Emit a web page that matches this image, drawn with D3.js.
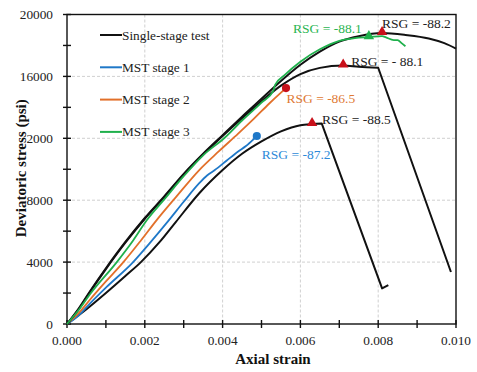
<!DOCTYPE html>
<html>
<head>
<meta charset="utf-8">
<script src="https://cdn.jsdelivr.net/npm/d3@7/dist/d3.min.js"></script>
<style>
  html, body { margin: 0; padding: 0; background: #fff; }
  svg { display: block; }
  text { font-family: "Liberation Serif", "Times New Roman", serif; }
</style>
</head>
<body>
<svg id="chart" width="477" height="372"></svg>
<script>
// Stress–strain curves: [axial strain, deviatoric stress (psi)]
const singleA = [[0,0],[0.0003,1000],[0.0006,2150],[0.001,3600],[0.0015,5300],[0.002,6850],[0.0025,8250],[0.003,9700],[0.0035,11000],[0.004,12200],[0.0045,13400],[0.005,14550],[0.0055,15700],[0.006,16750],[0.0065,17600],[0.007,18250],[0.0075,18600],[0.0081,18800],[0.0087,18680],[0.0093,18450],[0.0097,18150],[0.01,17800]];
const singleB = [[0,0],[0.0003,950],[0.0006,2100],[0.001,3550],[0.0015,5250],[0.002,6800],[0.0025,8200],[0.003,9650],[0.0035,10950],[0.004,12150],[0.0045,13300],[0.005,14400],[0.0055,15400],[0.006,16150],[0.0065,16550],[0.0071,16700],[0.0075,16620],[0.008,16560],[0.00987,3360]];
const singleC = [[0,0],[0.0005,950],[0.001,2000],[0.0015,3100],[0.0019,4000],[0.0024,5350],[0.0028,6600],[0.0034,8450],[0.004,9950],[0.0045,11000],[0.005,11800],[0.0055,12450],[0.006,12850],[0.0063,12920],[0.00655,12950],[0.0081,2300],[0.00826,2520]];
const mstStage1 = [[0,0],[0.0003,550],[0.0006,1350],[0.001,2350],[0.0017,4000],[0.0021,5150],[0.0026,6650],[0.003,7900],[0.0034,9100],[0.0036,9600],[0.0038,9950],[0.0041,10550],[0.0044,11150],[0.0046,11500],[0.0048,11950],[0.00488,12145]];
const mstStage2 = [[0,0],[0.0003,700],[0.0006,1600],[0.001,2750],[0.00145,4000],[0.0019,5400],[0.0023,6700],[0.0028,8200],[0.0034,9950],[0.0039,11150],[0.0044,12300],[0.0048,13250],[0.0052,14250],[0.0055,14950],[0.00563,15245]];
const mstStage3 = [[0,0],[0.0003,900],[0.0006,1950],[0.00128,4000],[0.0017,5400],[0.00205,6700],[0.0025,8050],[0.003,9550],[0.0035,10900],[0.00406,12050],[0.0045,13150],[0.005,14300],[0.0053,15050],[0.00535,15450],[0.0056,16100],[0.006,16950],[0.0065,17750],[0.007,18300],[0.0074,18480],[0.00776,18540],[0.0081,18600],[0.0082,18520],[0.0084,18350],[0.0085,18350],[0.0086,18150],[0.0087,17950]];

// Marked points and their RSG values
const peakTriangles = [[0.0081,18800],[0.0071,16700],[0.0063,12920]];
const stage3Triangle = [0.00776,18540];
const stage1Dot = [0.00488,12145];
const stage2Dot = [0.00563,15245];
const rsgLabels = ["RSG = -88.2","RSG = - 88.1","RSG = -88.5","RSG = -86.5","RSG = -87.2","RSG = -88.1"];

// Axis ticks
const xTicks = [0,0.002,0.004,0.006,0.008,0.010];
const xMinorTicks = d3.range(0,0.0105,0.001);
const yTicks = [0,4000,8000,12000,16000,20000];
const yMinorTicks = d3.range(0,20001,2000);

const legendNames = ["Single-stage test","MST stage 1","MST stage 2","MST stage 3"];
const colors = { black:"#111", blue:"#1f78c8", orange:"#e2702a", green:"#1fb04c", red:"#c8101a",
                 blueText:"#2e8ad8", orangeText:"#e07a34", greenText:"#2ab552" };

const svg = d3.select("#chart");
const L = 67, R = 456, T = 14.5, B = 324;
const x = d3.scaleLinear().domain([0,0.01]).range([L,R]);
const y = d3.scaleLinear().domain([0,20000]).range([B,T]);

// gridlines
const grid = svg.append("g").attr("stroke","#c4c4c4").attr("stroke-width",0.8).attr("stroke-dasharray","3,2");
yTicks.filter(v => v>0 && v<20000).forEach(v => grid.append("line").attr("x1",L).attr("x2",R).attr("y1",y(v)).attr("y2",y(v)));
xTicks.filter(v => v>0 && v<0.01).forEach(v => grid.append("line").attr("y1",T).attr("y2",B).attr("x1",x(v)).attr("x2",x(v)));

// frame
svg.append("rect").attr("x",L).attr("y",T).attr("width",R-L).attr("height",B-T)
  .attr("fill","none").attr("stroke","#111").attr("stroke-width",1.4);

// cross ticks
const ticks = svg.append("g").attr("stroke","#111").attr("stroke-width",1.4);
yMinorTicks.forEach(v => ticks.append("line").attr("x1",L-4).attr("x2",L+4).attr("y1",y(v)).attr("y2",y(v)));
xMinorTicks.forEach(v => ticks.append("line").attr("y1",B-4).attr("y2",B+4).attr("x1",x(v)).attr("x2",x(v)));

// tick labels
svg.append("g").selectAll("text").data(yTicks).join("text")
  .attr("x",L-14).attr("y",d => y(d)).attr("dy","0.35em").attr("text-anchor","end")
  .attr("font-size",13.3).attr("fill","#222").text(d => d);
svg.append("g").selectAll("text").data(xTicks).join("text")
  .attr("x",d => x(d)).attr("y",B+21).attr("text-anchor","middle")
  .attr("font-size",13.3).attr("fill","#222").text(d => d3.format(".3f")(d));

// axis titles (the y title sits on an opaque box)
svg.append("text").attr("x",273).attr("y",364).attr("text-anchor","middle")
  .attr("font-size",15).attr("font-weight","bold").attr("fill","#111").text("Axial strain");
const yt = svg.append("g").attr("transform",`translate(26,${(T+B)/2 - 1}) rotate(-90)`);
yt.append("rect").attr("x",-78).attr("y",-15).attr("width",156).attr("height",15.5).attr("fill","#fff");
yt.append("text").attr("text-anchor","middle").attr("font-size",15).attr("font-weight","bold")
  .attr("fill","#111").text("Deviatoric stress (psi)");

// curves: smooth loading branch, straight post-peak drop
const smooth = d3.line().x(d => x(d[0])).y(d => y(d[1])).curve(d3.curveMonotoneX);
const straight = d3.line().x(d => x(d[0])).y(d => y(d[1]));
function curvePath(pts, dropAt) {
  if (dropAt == null) return smooth(pts);
  return smooth(pts.slice(0, dropAt + 1)) + straight(pts.slice(dropAt)).replace(/^M/, "L");
}
const curves = [
  [singleC, colors.black, 2, 14], [mstStage1, colors.blue, 1.8], [mstStage2, colors.orange, 1.8],
  [singleB, colors.black, 2, 17], [singleA, colors.black, 2], [mstStage3, colors.green, 1.8]
];
svg.append("g").selectAll("path").data(curves).join("path")
  .attr("d",d => curvePath(d[0], d[3])).attr("fill","none").attr("stroke",d => d[1])
  .attr("stroke-width",d => d[2]).attr("stroke-linejoin","round");

// markers
const tri = d3.symbol().type(d3.symbolTriangle).size(48);
const dot = d3.symbol().type(d3.symbolCircle).size(52);
svg.append("g").selectAll("path").data(peakTriangles).join("path")
  .attr("transform",d => `translate(${x(d[0])},${y(d[1])-1})`).attr("d",tri).attr("fill",colors.red);
svg.append("path").attr("transform",`translate(${x(stage3Triangle[0])},${y(stage3Triangle[1])-1})`)
  .attr("d",tri).attr("fill",colors.green);
svg.append("path").attr("transform",`translate(${x(stage1Dot[0])},${y(stage1Dot[1])})`)
  .attr("d",dot).attr("fill",colors.blue);
svg.append("path").attr("transform",`translate(${x(stage2Dot[0])},${y(stage2Dot[1])})`)
  .attr("d",dot).attr("fill",colors.red);

// RSG annotations, placed relative to their marked points
const notes = [
  [peakTriangles[0], rsgLabels[0], 0, -5, "start", "#222"],
  [peakTriangles[1], rsgLabels[1], 8, 0.5, "start", "#222"],
  [peakTriangles[2], rsgLabels[2], 10, -0.5, "start", "#222"],
  [stage2Dot, rsgLabels[3], 0.5, 15, "start", colors.orangeText],
  [stage1Dot, rsgLabels[4], 5, 23, "start", colors.blueText],
  [stage3Triangle, rsgLabels[5], -7, -4.5, "end", colors.greenText]
];
svg.append("g").selectAll("text").data(notes).join("text")
  .attr("x",d => x(d[0][0]) + d[2]).attr("y",d => y(d[0][1]) + d[3])
  .attr("text-anchor",d => d[4]).attr("fill",d => d[5]).attr("font-size",13.5).text(d => d[1]);

// legend
const legendColors = [colors.black, colors.blue, colors.orange, colors.green];
const lg = svg.append("g").selectAll("g").data(legendNames).join("g")
  .attr("transform",(d,i) => `translate(100,${35 + i*32.3})`);
lg.append("line").attr("x1",0).attr("x2",22).attr("stroke",(d,i) => legendColors[i]).attr("stroke-width",2);
lg.append("text").attr("x",22).attr("y",4.5).attr("font-size",13.3).attr("fill","#222").text(d => d);
</script>
</body>
</html>
